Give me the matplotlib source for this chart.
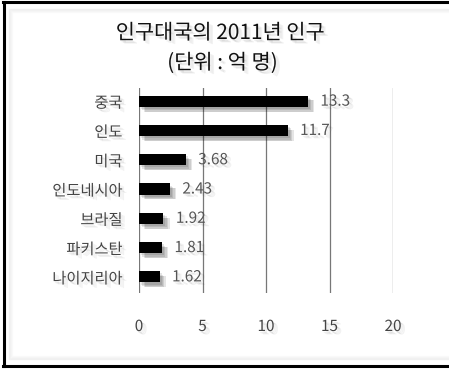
import matplotlib
matplotlib.use('Agg')
import matplotlib.pyplot as plt
import matplotlib.patheffects as pe
from matplotlib.patches import Rectangle

plt.rcParams['font.family'] = ['Noto Sans CJK KR', 'DejaVu Sans']

# 2011 population of the largest countries (unit: 100 million)
countries = ['중국', '인도', '미국', '인도네시아', '브라질', '파키스탄', '나이지리아']
population = [13.3, 11.7, 3.68, 2.43, 1.92, 1.81, 1.62]
value_labels = ['13.3', '11.7', '3.68', '2.43', '1.92', '1.81', '1.62']
xticks = [0, 5, 10, 15, 20]


def soft_shadow(offsets, alpha):
    effects = [pe.SimplePatchShadow(offset=o, shadow_rgbFace='black', alpha=alpha)
               for o in offsets]
    return effects + [pe.Normal()]


bar_fx = soft_shadow([(1.5, -1.5), (2.5, -2.5), (3.5, -3.5), (4.5, -3.5)], 0.10)
text_fx = soft_shadow([(1, -1.5), (2, -2), (3, -2.5)], 0.05)

fig = plt.figure(figsize=(4.49, 3.69), dpi=100)
W, H = 449, 369

# frame around the picture
frame = fig.add_axes([0, 0, 1, 1], zorder=-5)
frame.set_xlim(0, W)
frame.set_ylim(H, 0)
frame.axis('off')
frame.plot([4, 4], [2, 366], color='black', lw=2.2)
frame.plot([3, W], [2, 2], color='black', lw=2.2)
frame.plot([3, W], [365.5, 365.5], color='black', lw=2.2)
for i, a in enumerate([0.10, 0.07, 0.05, 0.03]):
    frame.add_patch(Rectangle((9 + i, 9 + i), W, 350 - 2 * i, fill=False,
                              edgecolor='gray', lw=1, alpha=a))

ax = fig.add_axes([139 / W, (H - 293) / H, 254 / W, 205 / H])
y = list(range(len(countries)))
bars = ax.barh(y, population, height=0.38, color='black', zorder=3)
for b in bars:
    b.set_path_effects(bar_fx)

for yi, v, lab in zip(y, population, value_labels):
    ax.annotate(lab, (v, yi), xytext=(9, 0), textcoords='offset points',
                va='center', ha='left', fontsize=11, color='#555555',
                path_effects=text_fx, zorder=4)

ax.set_xlim(0, 20)
ax.set_ylim(len(countries) - 0.45, -0.45)
ax.set_xticks(xticks)
ax.set_xticklabels([str(t) for t in xticks])
ax.set_yticks(y)
ax.set_yticklabels(countries)
ax.grid(axis='x', color='#777777', lw=0.9, zorder=1)
ax.tick_params(axis='both', length=0, labelsize=11, labelcolor='#444444')
ax.tick_params(axis='x', pad=18)
ax.tick_params(axis='y', pad=12)
for lbl in ax.get_xticklabels() + ax.get_yticklabels():
    lbl.set_path_effects(text_fx)
for s in ax.spines.values():
    s.set_visible(False)

fig.text(0.49, 1 - 33 / H, '인구대국의 2011년 인구', ha='center', va='center',
         fontsize=15, color='#111111', path_effects=text_fx)
fig.text(0.495, 1 - 63 / H, '(단위 : 억 명)', ha='center', va='center',
         fontsize=15, color='#111111', path_effects=text_fx)

fig.savefig('out.png', dpi=100)
